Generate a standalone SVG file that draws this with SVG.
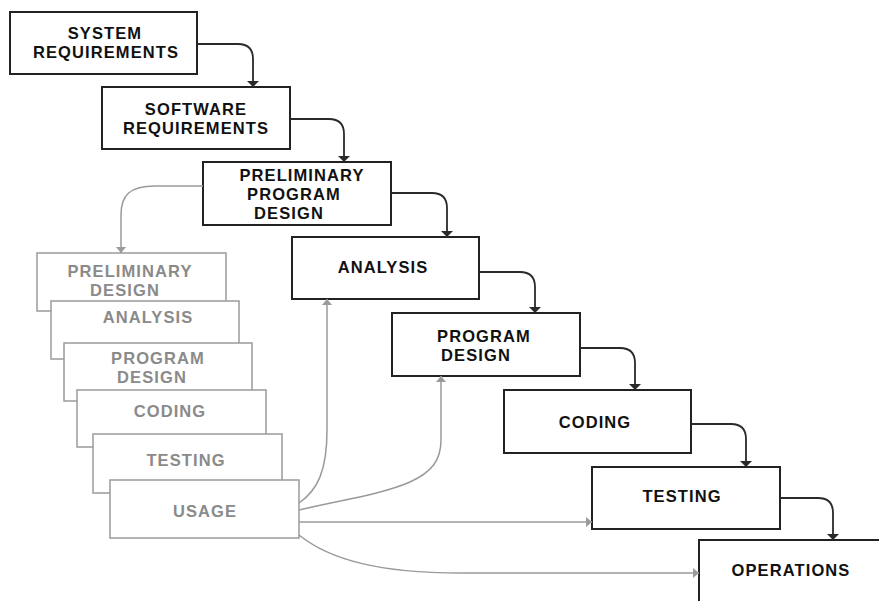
<svg xmlns="http://www.w3.org/2000/svg" width="879" height="601" viewBox="0 0 879 601">
  <style>
    .box { fill: #fff; stroke: #222; stroke-width: 2; }
    .gbox { fill: #fff; stroke: #9a9a9a; stroke-width: 1.5; }
    .lbl { font-family: "Liberation Sans", Arial, sans-serif; font-weight: bold; font-size: 16.5px; letter-spacing: 1.1px; fill: #111; text-anchor: middle; }
    .glbl { font-family: "Liberation Sans", Arial, sans-serif; font-weight: bold; font-size: 16.5px; letter-spacing: 1.1px; fill: #8a8a8a; text-anchor: middle; }
    .flow { fill: none; stroke: #2a2a2a; stroke-width: 1.8; marker-end: url(#headDark); }
    .feed { fill: none; stroke: #9a9a9a; stroke-width: 1.5; marker-end: url(#headGray); }
  </style>
  <defs>
    <marker id="headDark" viewBox="0 -6 6 12" refX="6" refY="0" markerWidth="6" markerHeight="12" markerUnits="userSpaceOnUse" orient="auto">
      <path d="M0,-6 L6,0 L0,6 z" fill="#2a2a2a"/>
    </marker>
    <marker id="headGray" viewBox="0 -6 6 12" refX="6" refY="0" markerWidth="6" markerHeight="12" markerUnits="userSpaceOnUse" orient="auto">
      <path d="M0,-5 L6,0 L0,5 z" fill="#9a9a9a"/>
    </marker>
  </defs>

  <rect width="879" height="601" fill="#fff"/>

  <!-- main cascade -->
  <g id="system-requirements">
    <rect class="box" x="10" y="12" width="187" height="62"/>
    <text class="lbl" x="105" y="39">SYSTEM</text>
    <text class="lbl" x="106" y="58">REQUIREMENTS</text>
  </g>
  <g id="software-requirements">
    <rect class="box" x="102" y="87" width="188" height="62"/>
    <text class="lbl" x="196" y="114.5">SOFTWARE</text>
    <text class="lbl" x="196" y="133.5">REQUIREMENTS</text>
  </g>
  <g id="preliminary-program-design">
    <rect class="box" x="203" y="162" width="188" height="63"/>
    <text class="lbl" x="302" y="181">PRELIMINARY</text>
    <text class="lbl" x="294" y="200">PROGRAM</text>
    <text class="lbl" x="289" y="219">DESIGN</text>
  </g>
  <g id="analysis">
    <rect class="box" x="292" y="237" width="187" height="62"/>
    <text class="lbl" x="383" y="273">ANALYSIS</text>
  </g>
  <g id="program-design">
    <rect class="box" x="392" y="313" width="188" height="63"/>
    <text class="lbl" x="484" y="341.5">PROGRAM</text>
    <text class="lbl" x="476" y="360.5">DESIGN</text>
  </g>
  <g id="coding">
    <rect class="box" x="504" y="390" width="187" height="63"/>
    <text class="lbl" x="595" y="428">CODING</text>
  </g>
  <g id="testing">
    <rect class="box" x="592" y="467" width="188" height="62"/>
    <text class="lbl" x="682" y="502">TESTING</text>
  </g>
  <g id="operations">
    <rect class="box" x="699" y="540" width="200" height="80"/>
    <text class="lbl" x="791" y="576">OPERATIONS</text>
  </g>

  <!-- stacked pilot-run boxes -->
  <g id="pilot-preliminary-design">
    <rect class="gbox" x="37" y="253" width="189" height="58"/>
    <text class="glbl" x="130" y="276.5">PRELIMINARY</text>
    <text class="glbl" x="125" y="295.5">DESIGN</text>
  </g>
  <g id="pilot-analysis">
    <rect class="gbox" x="51" y="301" width="188" height="58"/>
    <text class="glbl" x="148" y="323">ANALYSIS</text>
  </g>
  <g id="pilot-program-design">
    <rect class="gbox" x="64" y="343" width="188" height="58"/>
    <text class="glbl" x="158" y="364">PROGRAM</text>
    <text class="glbl" x="152" y="383">DESIGN</text>
  </g>
  <g id="pilot-coding">
    <rect class="gbox" x="77" y="390" width="189" height="57"/>
    <text class="glbl" x="170" y="417">CODING</text>
  </g>
  <g id="pilot-testing">
    <rect class="gbox" x="93" y="434" width="189" height="59"/>
    <text class="glbl" x="186" y="466">TESTING</text>
  </g>
  <g id="pilot-usage">
    <rect class="gbox" x="110" y="480" width="189" height="58"/>
    <text class="glbl" x="205" y="517">USAGE</text>
  </g>

  <g id="connectors">
    <!-- step-down flow -->
    <path class="flow" d="M197,44 H238 Q253,44 253,59 V87"/>
    <path class="flow" d="M290,119 H329 Q344,119 344,134 V162"/>
    <path class="flow" d="M391,193 H432 Q447,193 447,208 V237"/>
    <path class="flow" d="M479,272 H520 Q535,272 535,287 V313"/>
    <path class="flow" d="M580,348 H620 Q635,348 635,363 V390"/>
    <path class="flow" d="M691,424 H731 Q746,424 746,439 V467"/>
    <path class="flow" d="M780,498 H818 Q833,498 833,513 V540"/>
    <!-- pilot run feed lines -->
    <path class="feed" d="M203,186 H155 C130,186 121,195 121,215 V253"/>
    <path class="feed" d="M299,503 C318,490 327,470 327,430 V299"/>
    <path class="feed" d="M299,510 C340,500 380,495 410,482 C432,472 441,460 441,440 V376"/>
    <path class="feed" d="M299,522 H592"/>
    <path class="feed" d="M299,535 C330,560 380,573 460,573 H699"/>
  </g>
</svg>
